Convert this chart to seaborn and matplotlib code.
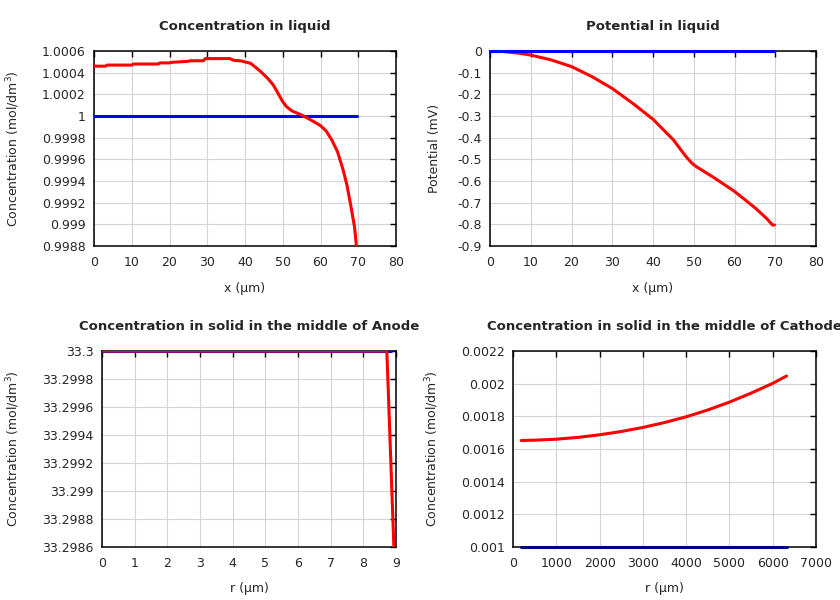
import numpy as np
import pandas as pd
import seaborn as sns
import matplotlib
matplotlib.use("Agg")
import matplotlib.pyplot as plt
from matplotlib.ticker import MultipleLocator, FuncFormatter

# concentration in liquid (top left)
liq_x = [0, 3, 3.5, 10, 10.5, 17, 17.5, 20, 20.5, 25, 25.5, 29, 29.5, 36, 37, 39,
         41.5, 44, 46, 47.5, 49, 50, 51, 52.5, 55, 57, 59, 60, 61.5, 63, 64.5, 66,
         67, 68, 69, 69.6]
liq_c = [1.00046, 1.00046, 1.00047, 1.00047, 1.00048, 1.00048, 1.00049, 1.00049,
         1.000495, 1.000505, 1.00051, 1.00051, 1.00053, 1.00053, 1.000514, 1.000508,
         1.000486, 1.000415, 1.000348, 1.000286, 1.000194, 1.000132, 1.000086,
         1.000046, 1.000009, 0.999972, 0.999932, 0.999911, 0.999862, 0.999778,
         0.999671, 0.999502, 0.999363, 0.999178, 0.998978, 0.99877]
liq_c0_x = [0, 69.8]
liq_c0 = [1.0, 1.0]

# potential in liquid (top right)
pot_x = [0, 2.5, 5, 7.5, 10, 15, 20, 25, 30, 35, 40, 45, 48, 49.5, 50.5, 55, 60,
         65, 68, 69.3, 69.8]
pot_v = [0, -0.001, -0.006, -0.011, -0.019, -0.041, -0.072, -0.118, -0.173, -0.241,
         -0.315, -0.41, -0.485, -0.517, -0.532, -0.585, -0.648, -0.723, -0.775,
         -0.803, -0.803]
pot0_x = [0, 69.8]
pot0_v = [0, 0]

# solid, anode (bottom left)
an_r = [0, 8.72, 9.0]
an_c = [33.3, 33.3, 33.29818]
an0_r = [0, 8.85]
an0_c = [33.3, 33.3]

# solid, cathode (bottom right)
ca_r = [190, 500, 1000, 1500, 2000, 2500, 3000, 3500, 4000, 4500, 5000, 5500, 6000, 6320]
ca_c = [0.001652, 0.001654, 0.00166, 0.001671, 0.001687, 0.001707, 0.001732,
        0.001762, 0.001797, 0.001839, 0.001887, 0.001942, 0.002002, 0.002047]
ca0_r = [190, 6320]
ca0_c = [0.001, 0.001]

sns.set_style("white")
plt.rcParams["font.family"] = ["DejaVu Sans"]
plt.rcParams["font.size"] = 9

fig = plt.figure(figsize=(8.4, 6), dpi=100)
W, H = 840, 600


def box(l, t, r, b):
    return [l / W, 1 - b / H, (r - l) / W, (b - t) / H]


def fmt(v, pos):
    return f"{round(v, 7) + 0.0:.6g}"


def style(ax, title, xlabel, ylabel, xlim, xstep, ylim, ystep, ylx, xly):
    ax.set_xlim(*xlim)
    ax.set_ylim(*ylim)
    ax.xaxis.set_major_locator(MultipleLocator(xstep))
    ax.yaxis.set_major_locator(MultipleLocator(ystep))
    ax.yaxis.set_major_formatter(FuncFormatter(fmt))
    ax.xaxis.set_major_formatter(FuncFormatter(fmt))
    ax.grid(True, color="#d4d4d4", lw=0.8)
    ax.tick_params(direction="in", length=4, width=1, color="black",
                   top=True, right=True, labelsize=9)
    ax.tick_params(axis="x", pad=7)
    ax.tick_params(axis="y", pad=6)
    for s in ax.spines.values():
        s.set_color("black")
        s.set_linewidth(1.1)
        s.set_visible(True)
    ax.set_title(title, fontsize=9.5, fontweight="bold", pad=15)
    ax.set_xlabel(xlabel, fontsize=9)
    ax.set_ylabel(ylabel, fontsize=9)
    ax.yaxis.set_label_coords(ylx, 0.5)
    ax.xaxis.set_label_coords(0.5, xly)


def draw(ax, x, y, color, clip=True):
    sns.lineplot(x=x, y=y, ax=ax, color=color, lw=2.2, estimator=None,
                 sort=False, zorder=3, clip_on=clip)


conc_lbl = "Concentration (mol/dm$^3$)"

ax1 = fig.add_axes(box(94, 51, 396, 246))
draw(ax1, liq_c0_x, liq_c0, "#0000ff")
draw(ax1, liq_x, liq_c, "#ff0000")
style(ax1, "Concentration in liquid", "x (µm)", conc_lbl,
      (0, 80), 10, (0.9988, 1.0006), 0.0002, -0.238, -0.185)

ax2 = fig.add_axes(box(490, 51, 816, 246))
draw(ax2, pot_x, pot_v, "#ff0000")
draw(ax2, pot0_x, pot0_v, "#0000ff", clip=False)
style(ax2, "Potential in liquid", "x (µm)", "Potential (mV)",
      (0, 80), 10, (-0.9, 0), 0.1, -0.150, -0.185)

ax3 = fig.add_axes(box(102, 351, 396, 547))
draw(ax3, an0_r, an0_c, "#0000ff")
draw(ax3, an_r, an_c, "#ff0000")
style(ax3, "Concentration in solid in the middle of Anode", "r (µm)", conc_lbl,
      (0, 9), 1, (33.2986, 33.3), 0.0002, -0.271, -0.179)

ax4 = fig.add_axes(box(513, 351, 816, 547))
draw(ax4, ca_r, ca_c, "#ff0000")
draw(ax4, ca0_r, ca0_c, "#00008b", clip=False)
style(ax4, "Concentration in solid in the middle of Cathode", "r (µm)", conc_lbl,
      (0, 7000), 1000, (0.001, 0.0022), 0.0002, -0.237, -0.179)

fig.savefig("out.png", dpi=100)
